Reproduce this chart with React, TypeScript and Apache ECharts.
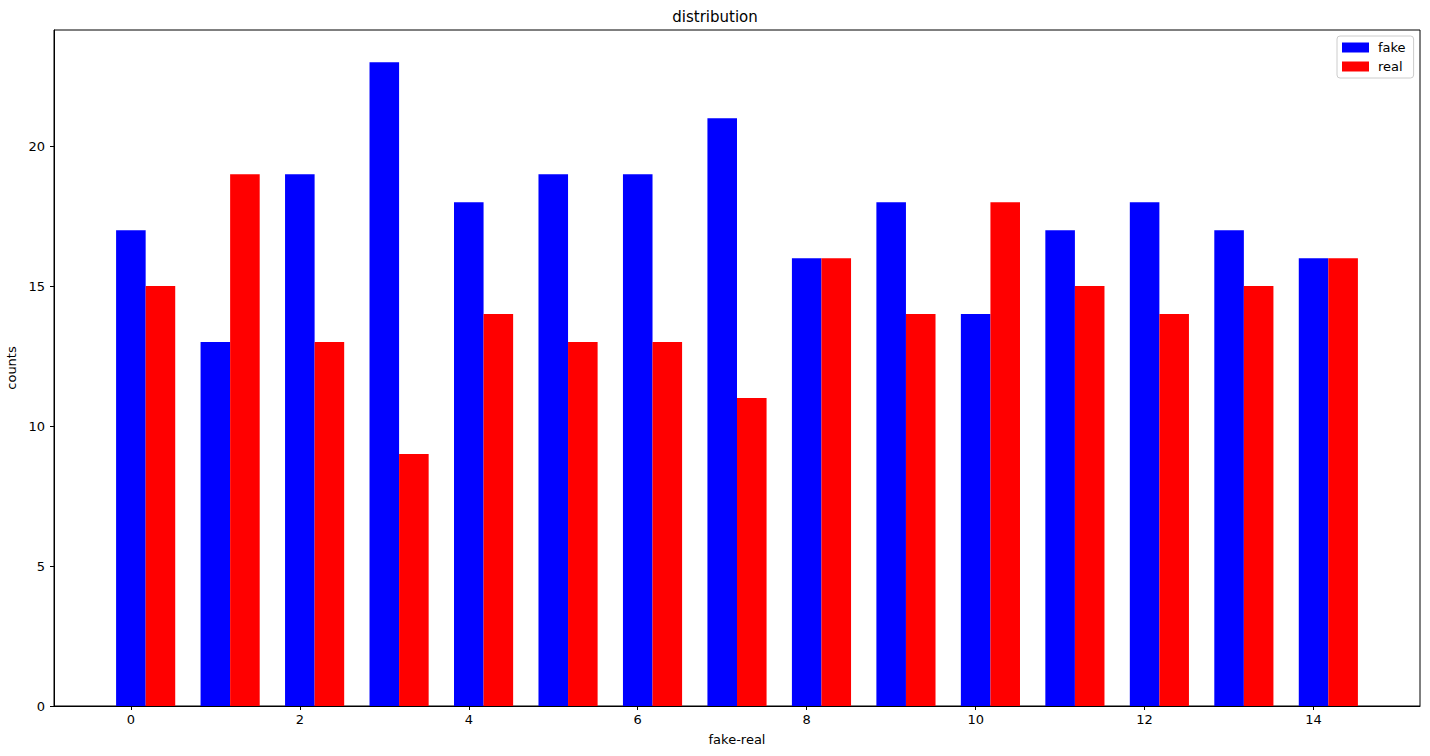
import React, { useEffect, useRef } from "react";
import * as echarts from "echarts";

const categories = [0, 1, 2, 3, 4, 5, 6, 7, 8, 9, 10, 11, 12, 13, 14];
const fakeCounts = [17, 13, 19, 23, 18, 19, 19, 21, 16, 18, 14, 17, 18, 17, 16];
const realCounts = [15, 19, 13, 9, 14, 13, 13, 11, 16, 14, 18, 15, 14, 15, 16];
const xTickValues = [0, 2, 4, 6, 8, 10, 12, 14];
const yTickValues = [0, 5, 10, 15, 20];
const seriesNames = ["fake", "real"];
const seriesColors = ["#0000ff", "#ff0000"];

const BAR_W = 0.35;
const FONT = "DejaVu Sans, sans-serif";

function makeRender(offset: number, color: string) {
  return (params: any, api: any) => {
    const x = api.value(0);
    const y = api.value(1);
    const p0 = api.coord([x + offset - BAR_W / 2, y]);
    const p1 = api.coord([x + offset + BAR_W / 2, 0]);
    return {
      type: "rect",
      shape: { x: p0[0], y: p0[1], width: p1[0] - p0[0], height: p1[1] - p0[1] },
      style: { fill: color },
    };
  };
}

export default function App() {
  const ref = useRef<HTMLDivElement>(null);
  useEffect(() => {
    if (!ref.current) return;
    const chart = echarts.init(ref.current, null, { renderer: "svg" });
    const allVals = [...fakeCounts, ...realCounts];
    const yMax = Math.max(...allVals) * 1.05;
    const xLo = categories[0] - BAR_W / 2;
    const xHi = categories[categories.length - 1] + BAR_W + BAR_W / 2;
    const span = xHi - xLo;
    const xMin = xLo - span * 0.05;
    const xMax = xHi + span * 0.05;
    const seriesData = [fakeCounts, realCounts];
    chart.setOption({
      animation: false,
      backgroundColor: "#ffffff",
      textStyle: { fontFamily: FONT },
      title: {
        text: "distribution",
        left: "center",
        top: 4,
        textStyle: { fontSize: 15, fontWeight: "normal", color: "#000", fontFamily: FONT },
      },
      grid: {
        left: 54,
        right: 10,
        top: 30,
        bottom: 50,
        containLabel: false,
        outerBoundsMode: "none",
        show: true,
        borderColor: "#000",
        borderWidth: 1,
        backgroundColor: "transparent",
      },
      legend: {
        orient: "vertical",
        left: 1337,
        top: 36,
        padding: [5, 8, 5, 5],
        backgroundColor: "#fff",
        borderColor: "#cccccc",
        borderWidth: 1,
        borderRadius: 3,
        itemWidth: 27,
        itemHeight: 10,
        itemGap: 6,
        data: seriesNames.map((n) => ({ name: n, icon: "rect" })),
        textStyle: { fontSize: 13, color: "#000", fontFamily: FONT, padding: [0, 0, 0, 4] },
      },
      xAxis: {
        type: "value",
        min: xMin,
        max: xMax,
        name: "fake-real",
        nameLocation: "middle",
        nameGap: 27,
        nameTextStyle: { fontSize: 13, color: "#000", fontFamily: FONT },
        splitLine: { show: false },
        axisLine: { show: true, onZero: false, lineStyle: { color: "#000", width: 1 } },
        axisTick: { show: true, length: 4, lineStyle: { color: "#000" }, customValues: xTickValues },
        axisLabel: { fontSize: 13, color: "#000", margin: 7, fontFamily: FONT, customValues: xTickValues },
      },
      yAxis: {
        type: "value",
        min: 0,
        max: yMax,
        name: "counts",
        nameLocation: "middle",
        nameGap: 25,
        nameRotate: 90,
        nameTextStyle: { fontSize: 13, color: "#000", fontFamily: FONT },
        splitLine: { show: false },
        axisLine: { show: true, onZero: false, lineStyle: { color: "#000", width: 1 } },
        axisTick: { show: true, length: 4, lineStyle: { color: "#000" }, customValues: yTickValues },
        axisLabel: { fontSize: 13, color: "#000", margin: 9, fontFamily: FONT, customValues: yTickValues },
      },
      series: seriesNames.map((name, si) => ({
        type: "custom",
        name,
        itemStyle: { color: seriesColors[si] },
        renderItem: makeRender(si * BAR_W, seriesColors[si]),
        encode: { x: 0, y: 1 },
        data: categories.map((c, i) => [c, seriesData[si][i]]),
      })),
    });
    return () => chart.dispose();
  }, []);
  return (
    <div
      ref={ref}
      style={{ position: "fixed", left: 0, top: 0, width: 1430, height: 756 }}
    />
  );
}
